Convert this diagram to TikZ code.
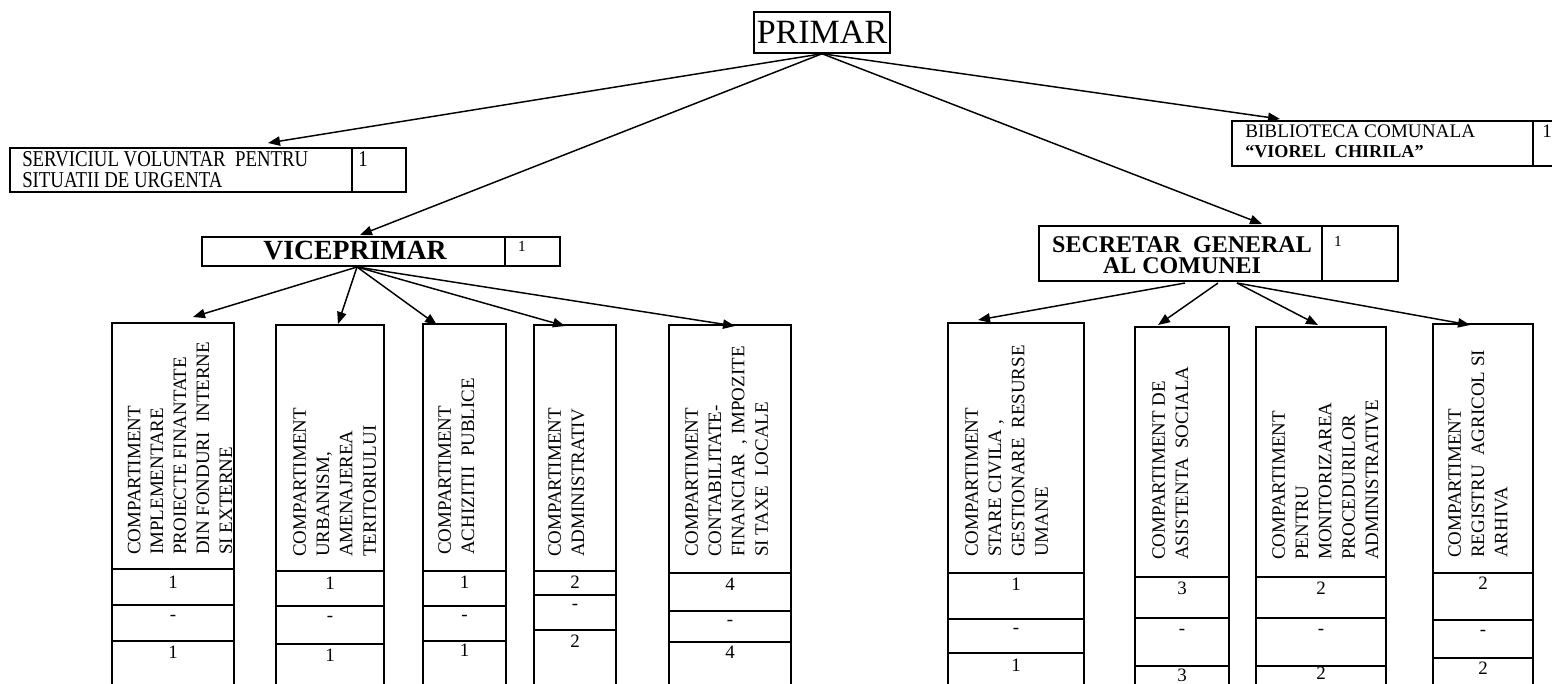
\documentclass[tikz,border=0pt]{standalone}
\usepackage{fontspec}
\setmainfont{Liberation Serif}
\newfontfamily\condfont[FakeStretch=0.83]{Liberation Serif}
\usetikzlibrary{arrows.meta,fit}
\tikzset{
  box/.style={draw, line width=1.1pt, inner sep=0pt},
  sep/.style={line width=1.1pt},
  arr/.style={line width=1.1pt, -{Triangle[length=9pt,width=7pt]}},
  lbl/.style={font=\fontsize{14.2}{15.5}\selectfont, inner sep=0pt, align=left, anchor=north west},
  vt/.style={font=\fontsize{14.2}{17.5}\selectfont, inner sep=0pt, align=left, rotate=90, anchor=north west},
  num/.style={font=\fontsize{14.2}{16}\selectfont, inner sep=0pt},
  smallnum/.style={font=\fontsize{11.5}{13}\selectfont, inner sep=0pt, anchor=north},
}
\begin{document}
\begin{tikzpicture}[x=0.75pt,y=-0.75pt]
\useasboundingbox (0,0) rectangle (1552,683);
\fill[white] (0,0) rectangle (1552,683);
\clip (0,0) rectangle (1552,683);

% PRIMAR
\node[box, minimum width=102pt, minimum height=30.75pt, font=\fontsize{25.5}{28}\selectfont] (primar) at (822,32.5) {PRIMAR};

% SERVICIUL
\node[box, fit={(10,148) (406,192)}] (serv) {};
\draw[sep] (352,148) -- (352,192);
\node[lbl, font=\condfont\fontsize{17}{15.75}\selectfont] (servt) at (22,151) {SERVICIUL VOLUNTAR\ \ PENTRU\\SITUATII DE URGENTA};
\node[inner sep=0pt, anchor=north, font=\condfont\fontsize{17}{18}\selectfont] (servn) at (363,151) {1};

% BIBLIOTECA
\node[box, fit={(1232,121) (1570,166)}] (bib) {};
\draw[sep] (1533,121) -- (1533,166);
\node[lbl, font=\fontsize{14.4}{15}\selectfont] (bibt) at (1245,125) {BIBLIOTECA COMUNALA\\\fontsize{13.6}{15}\selectfont\textbf{“VIOREL\ \ CHIRILA”}};
\node[num, anchor=north] (bibn) at (1547,125) {1};

% VICEPRIMAR
\node[box, fit={(202,237) (560,266)}] (vice) {};
\draw[sep] (505,237) -- (505,266);
\node[inner sep=0pt, anchor=base, font=\fontsize{20.8}{24}\selectfont\bfseries] (vicet) at (355,259) {VICEPRIMAR};
\node[smallnum] (vicen) at (522,241) {1};

% SECRETAR
\node[box, fit={(1039,226) (1398,281)}] (sec) {};
\draw[sep] (1322,226) -- (1322,281);
\node[inner sep=0pt, anchor=north, align=center, font=\fontsize{18}{15.75}\selectfont\bfseries] (sect) at (1182,236) {SECRETAR\ \ GENERAL\\AL COMUNEI};
\node[smallnum] (secn) at (1338,236) {1};

% connector start points
\coordinate (vs) at (357,267);
\coordinate (ss1) at (1185,283);
\coordinate (ss2) at (1218,283);
\coordinate (ss3) at (1237,283);

% Vice columns
\node[box, fit={(112,323) (234,700)}] (b1) {};
\draw[sep] (112,569) -- (234,569);
\draw[sep] (112,605) -- (234,605);
\draw[sep] (112,641) -- (234,641);
\node[vt, font=\fontsize{14.2}{17.2}\selectfont] (t1) at (127.5,555) {COMPARTIMENT\\IMPLEMENTARE\\PROIECTE FINANTATE\\DIN FONDURI\ \ INTERNE\\SI EXTERNE};
\node[num] (n1a) at (173,582) {1};
\node[num] (n1b) at (173,618) {-};
\node[num] (n1c) at (173,652) {1};

\node[box, fit={(276,325) (384,700)}] (b2) {};
\draw[sep] (276,571) -- (384,571);
\draw[sep] (276,606) -- (384,606);
\draw[sep] (276,644) -- (384,644);
\node[vt] (t2) at (293,557) {COMPARTIMENT\\URBANISM,\\AMENAJEREA\\TERITORIULUI};
\node[num] (n2a) at (330,583) {1};
\node[num] (n2b) at (330,619) {-};
\node[num] (n2c) at (330,655) {1};

\node[box, fit={(423,324) (506,700)}] (b3) {};
\draw[sep] (423,571) -- (506,571);
\draw[sep] (423,606) -- (506,606);
\draw[sep] (423,641) -- (506,641);
\node[vt] (t3) at (438,555) {COMPARTIMENT\\ACHIZITII\ \ PUBLICE};
\node[num] (n3a) at (464.5,582) {1};
\node[num] (n3b) at (464.5,618) {-};
\node[num] (n3c) at (464.5,650) {1};

\node[box, fit={(534,325) (616,700)}] (b4) {};
\draw[sep] (534,571) -- (616,571);
\draw[sep] (534,595) -- (616,595);
\draw[sep] (534,630) -- (616,630);
\node[vt] (t4) at (548,557) {COMPARTIMENT\\ADMINISTRATIV};
\node[num] (n4a) at (575,582) {2};
\node[num] (n4b) at (575,607) {-};
\node[num] (n4c) at (575,641) {2};

\node[box, fit={(669,325) (791,700)}] (b5) {};
\draw[sep] (669,573) -- (791,573);
\draw[sep] (669,611) -- (791,611);
\draw[sep] (669,642) -- (791,642);
\node[vt] (t5) at (685,557) {COMPARTIMENT\\CONTABILITATE-\\FINANCIAR\ \ , IMPOZITE\\SI TAXE\ \ LOCALE};
\node[num] (n5a) at (730,584) {4};
\node[num] (n5b) at (730,623) {-};
\node[num] (n5c) at (730,652) {4};

% Secretar columns
\node[box, fit={(948,323) (1084,700)}] (b6) {};
\draw[sep] (948,573) -- (1084,573);
\draw[sep] (948,619) -- (1084,619);
\draw[sep] (948,653) -- (1084,653);
\node[vt] (t6) at (965,557) {COMPARTIMENT\\STARE CIVILA ,\\GESTIONARE\ \ RESURSE\\UMANE};
\node[num] (n6a) at (1016,584) {1};
\node[num] (n6b) at (1016,631) {-};
\node[num] (n6c) at (1016,665) {1};

\node[box, fit={(1135,327) (1229,700)}] (b7) {};
\draw[sep] (1135,577) -- (1229,577);
\draw[sep] (1135,618) -- (1229,618);
\draw[sep] (1135,666) -- (1229,666);
\node[vt] (t7) at (1152,560) {COMPARTIMENT DE\\ASISTENTA\ \ SOCIALA};
\node[num] (n7a) at (1182,588) {3};
\node[num] (n7b) at (1182,632) {-};
\node[num] (n7c) at (1182,675) {3};

\node[box, fit={(1256,327) (1386,700)}] (b8) {};
\draw[sep] (1256,577) -- (1386,577);
\draw[sep] (1256,618) -- (1386,618);
\draw[sep] (1256,666) -- (1386,666);
\node[vt] (t8) at (1272,560) {COMPARTIMENT\\PENTRU\\MONITORIZAREA\\PROCEDURILOR\\ADMINISTRATIVE};
\node[num] (n8a) at (1321,588) {2};
\node[num] (n8b) at (1321,632) {-};
\node[num] (n8c) at (1321,673) {2};

\node[box, fit={(1433,324) (1533,700)}] (b9) {};
\draw[sep] (1433,573) -- (1533,573);
\draw[sep] (1433,620) -- (1533,620);
\draw[sep] (1433,658) -- (1533,658);
\node[vt] (t9) at (1448,558) {COMPARTIMENT\\REGISTRU\ \ AGRICOL SI\\ARHIVA};
\node[num] (n9a) at (1483,583) {2};
\node[num] (n9b) at (1483,633) {-};
\node[num] (n9c) at (1483,668) {2};

% arrow tips
\coordinate (aserv) at (268,143);
\coordinate (avice) at (360,235);
\coordinate (asec) at (1262,224);
\coordinate (abib) at (1280,119);
\coordinate (a1) at (193,317);
\coordinate (a2) at (338,324);
\coordinate (a3) at (437,325);
\coordinate (a4) at (565,326);
\coordinate (a5) at (735,326);
\coordinate (a6) at (978,320);
\coordinate (a7) at (1158,325);
\coordinate (a8) at (1318,325);
\coordinate (a9) at (1470,325);

\draw[arr] (primar.south) -- (aserv);
\draw[arr] (primar.south) -- (avice);
\draw[arr] (primar.south) -- (asec);
\draw[arr] (primar.south) -- (abib);

\draw[arr] (vs) -- (a1);
\draw[arr] (vs) -- (a2);
\draw[arr] (vs) -- (a3);
\draw[arr] (vs) -- (a4);
\draw[arr] (vs) -- (a5);

\draw[arr] (ss1) -- (a6);
\draw[arr] (ss2) -- (a7);
\draw[arr] (ss3) -- (a8);
\draw[arr] (ss3) -- (a9);
\end{tikzpicture}
\end{document}
